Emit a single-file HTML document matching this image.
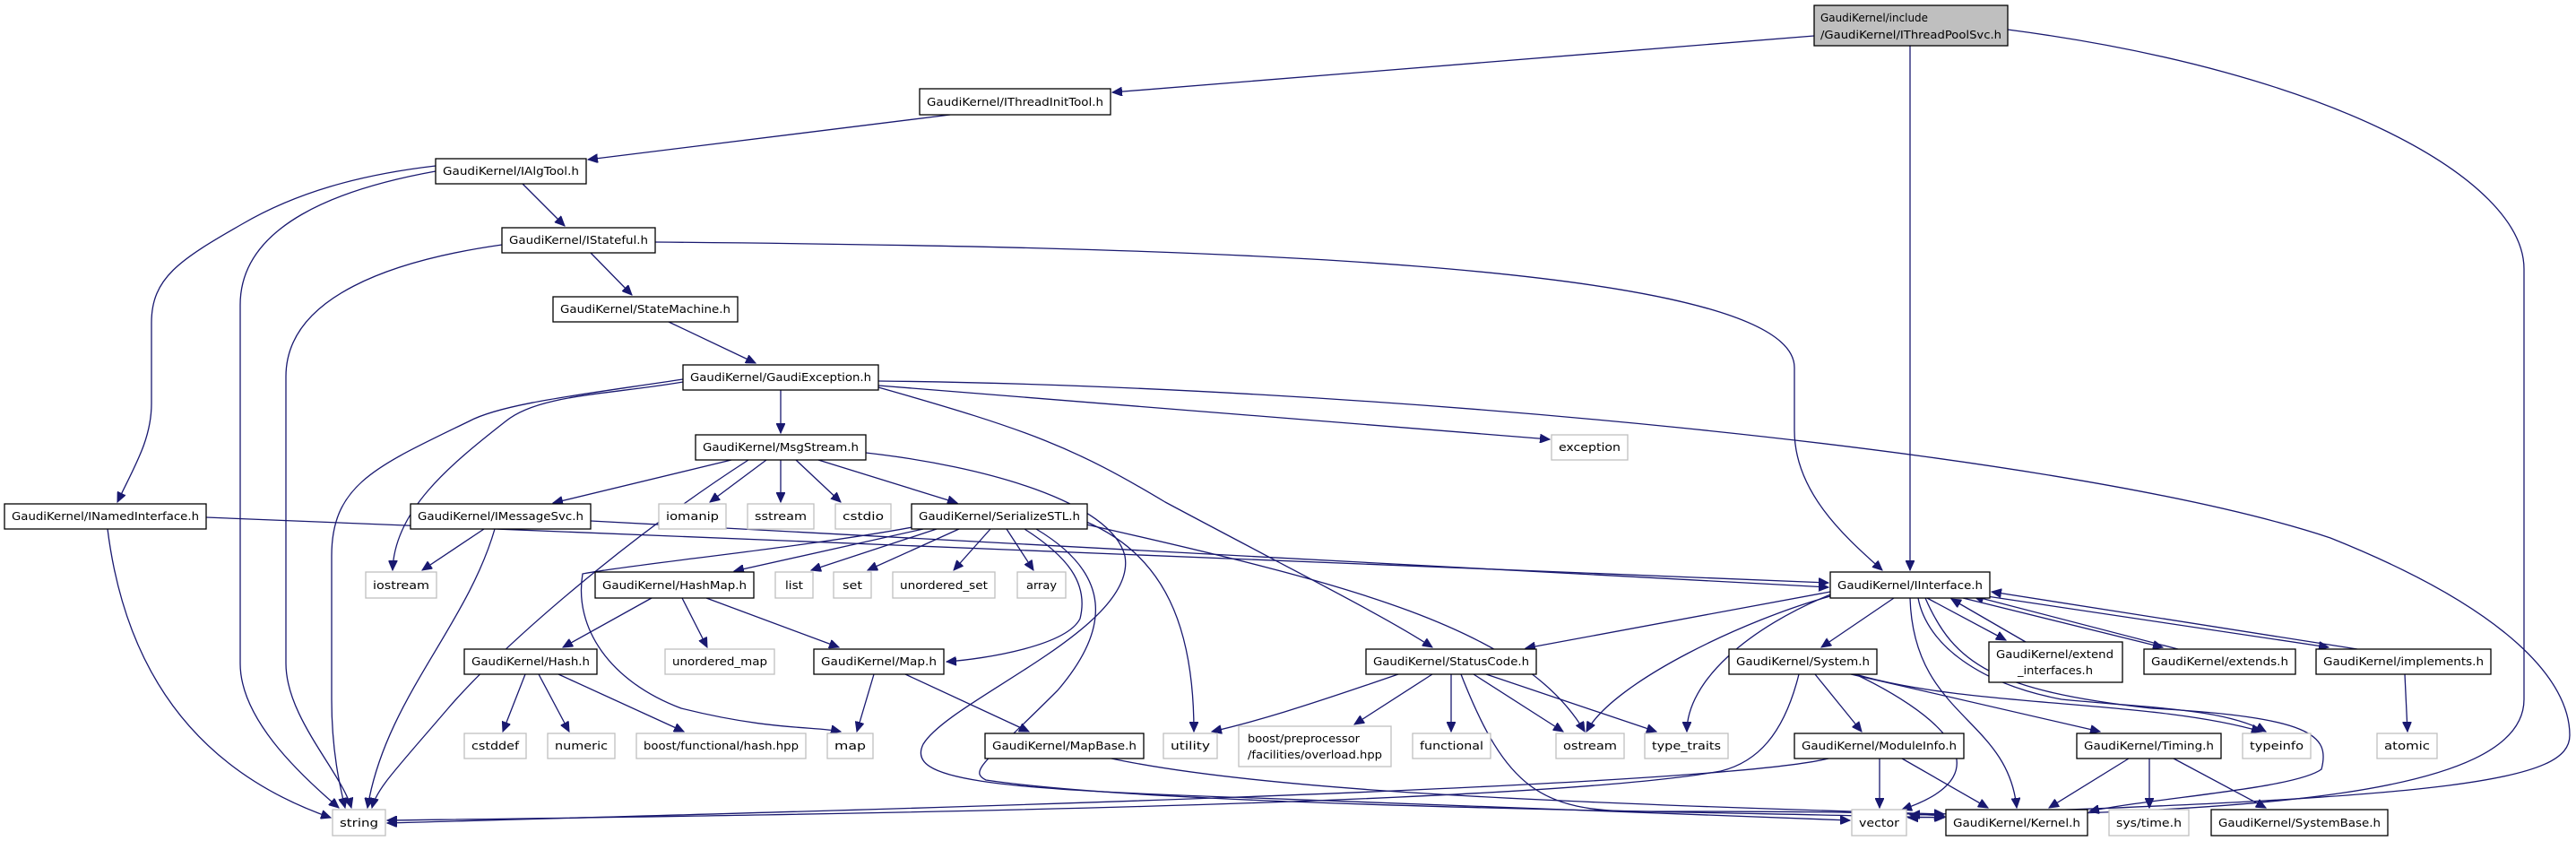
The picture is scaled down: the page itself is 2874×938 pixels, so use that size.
<!DOCTYPE html>
<html><head><meta charset="utf-8"><style>
html,body{margin:0;padding:0;background:#fff;}
svg{display:block;}
text{font-family:"DejaVu Sans","Liberation Sans",sans-serif;font-size:12px;fill:#000;}
.e{fill:none;stroke:#191970;stroke-width:1.3;marker-end:url(#a);}
.n{fill:#fff;stroke:#000;stroke-width:1.3;}
.g{fill:#fff;stroke:#bfbfbf;stroke-width:1.3;}
</style></head><body>
<svg width="2874" height="938" viewBox="0 0 2874 938" xmlns="http://www.w3.org/2000/svg">
<defs><marker id="a" markerUnits="userSpaceOnUse" markerWidth="12" markerHeight="10" refX="11" refY="5" orient="auto"><path d="M0,0 L11,5 L0,10 z" fill="#191970" stroke="#191970"/></marker></defs>

<g>
<path class="e" d="M2024,40 L1241,103"/>
<path class="e" d="M2131,51 L2131,636"/>
<path class="e" d="M2240,33 C2600,80 2816,200 2816,300 L2816,780 C2816,890 2500,905 2129,912"/>
<path class="e" d="M1060,128 L656,178"/>
<path class="e" d="M583,205 L630,252"/>
<path class="e" d="M486,185 C400,195 330,215 270,250 C200,290 169,310 169,360 L169,450 C169,490 150,520 131,560"/>
<path class="e" d="M486,191 C380,210 268,250 268,340 L268,740 C268,800 330,860 378,901"/>
<path class="e" d="M560,273 C440,290 319,330 319,420 L319,740 C319,800 380,860 392,901"/>
<path class="e" d="M731,270 C1300,275 2002,290 2002,410 L2002,480 C2002,550 2060,600 2100,636"/>
<path class="e" d="M659,282 L705,329"/>
<path class="e" d="M746,359 L843,405"/>
<path class="e" d="M762,423 C650,440 560,450 523,470 C420,520 370,540 370,620 L370,780 C370,840 380,880 385,901"/>
<path class="e" d="M762,426 C680,440 600,440 564,470 C500,520 440,570 438,636"/>
<path class="e" d="M871,435 L871,483"/>
<path class="e" d="M980,430 L1729,490"/>
<path class="e" d="M980,432 C1150,480 1200,500 1300,560 C1450,640 1550,690 1598,722"/>
<path class="e" d="M980,425 C1500,430 2300,500 2600,600 C2800,680 2867,760 2867,820 C2867,870 2750,890 2131,909"/>
<path class="e" d="M816,513 L617,561"/>
<path class="e" d="M835,513 C700,600 560,720 500,790 C440,860 420,880 415,901"/>
<path class="e" d="M855,513 L792,560"/>
<path class="e" d="M871,513 L871,560"/>
<path class="e" d="M888,513 L938,560"/>
<path class="e" d="M913,513 L1068,561"/>
<path class="e" d="M966,505 C1100,520 1240,560 1255,620 C1270,700 1060,780 1030,830 C1010,870 1100,880 1400,890 L2064,915"/>
<path class="e" d="M230,577 L2040,650"/>
<path class="e" d="M120,590 C140,750 220,860 369,912"/>
<path class="e" d="M659,581 L2040,655"/>
<path class="e" d="M540,590 L471,636"/>
<path class="e" d="M552,590 C520,700 430,780 410,901"/>
<path class="e" d="M1018,588 C900,610 700,630 650,640 C640,700 680,760 760,790 C860,815 910,810 938,816"/>
<path class="e" d="M1030,590 L819,637"/>
<path class="e" d="M1045,590 L905,636"/>
<path class="e" d="M1070,590 L968,636"/>
<path class="e" d="M1105,590 L1064,636"/>
<path class="e" d="M1123,590 L1153,636"/>
<path class="e" d="M1143,590 C1190,620 1215,650 1205,690 C1190,720 1100,735 1056,738"/>
<path class="e" d="M1156,590 C1240,640 1240,700 1180,770 C1100,850 1080,860 1100,870 C1300,900 1900,905 2169,912"/>
<path class="e" d="M1212,582 C1300,620 1332,700 1332,816"/>
<path class="e" d="M1212,585 C1500,650 1700,700 1768,816"/>
<path class="e" d="M727,667 L628,722"/>
<path class="e" d="M761,667 L789,722"/>
<path class="e" d="M788,667 L936,722"/>
<path class="e" d="M586,752 L561,816"/>
<path class="e" d="M601,752 L635,816"/>
<path class="e" d="M623,752 L763,816"/>
<path class="e" d="M975,752 L956,816"/>
<path class="e" d="M1010,752 L1148,816"/>
<path class="e" d="M1240,846 C1400,880 1700,895 2169,908"/>
<path class="e" d="M1560,752 C1450,790 1400,805 1352,816"/>
<path class="e" d="M1598,752 L1511,808"/>
<path class="e" d="M1619,752 L1619,816"/>
<path class="e" d="M1644,752 L1744,816"/>
<path class="e" d="M1658,752 L1848,816"/>
<path class="e" d="M1630,752 C1680,880 1720,905 1830,905 C1950,905 2100,905 2169,910"/>
<path class="e" d="M2042,660 L1702,723"/>
<path class="e" d="M2113,667 L2032,722"/>
<path class="e" d="M2150,667 L2238,714"/>
<path class="e" d="M2260,716 L2177,668"/>
<path class="e" d="M2190,667 L2413,722"/>
<path class="e" d="M2430,724 L2202,665"/>
<path class="e" d="M2210,664 L2598,722"/>
<path class="e" d="M2630,724 L2222,660"/>
<path class="e" d="M2683,752 L2686,816"/>
<path class="e" d="M2042,665 C1950,690 1800,760 1770,816"/>
<path class="e" d="M2045,662 C1950,700 1882,760 1882,816"/>
<path class="e" d="M2140,667 C2150,720 2210,763 2300,780 C2400,790 2480,790 2528,816"/>
<path class="e" d="M2131,667 C2135,800 2240,800 2250,901"/>
<path class="e" d="M2148,667 C2180,740 2223,770 2400,790 C2580,800 2600,820 2590,858 C2560,880 2400,890 2331,905"/>
<path class="e" d="M2007,752 C1990,820 1960,850 1920,860 C1700,900 800,910 432,915"/>
<path class="e" d="M2040,846 C1900,880 900,905 432,918"/>
<path class="e" d="M2025,752 L2077,816"/>
<path class="e" d="M2065,752 L2343,816"/>
<path class="e" d="M2070,752 C2200,790 2400,780 2523,816"/>
<path class="e" d="M2070,752 C2150,790 2250,860 2122,903"/>
<path class="e" d="M2097,846 L2097,901"/>
<path class="e" d="M2122,846 L2218,901"/>
<path class="e" d="M2375,846 L2286,901"/>
<path class="e" d="M2398,846 L2398,901"/>
<path class="e" d="M2425,846 L2528,901"/>
</g>

<g>
<rect x="2024" y="6" width="216" height="45" fill="#bfbfbf" stroke="#000" stroke-width="1.3"/>
<text x="2031" y="24" textLength="120" lengthAdjust="spacingAndGlyphs">GaudiKernel/include</text>
<text x="2031" y="43" textLength="202" lengthAdjust="spacingAndGlyphs">/GaudiKernel/IThreadPoolSvc.h</text>

<rect class="n" x="1026" y="99" width="213" height="29"/><text x="1034" y="118" textLength="197" lengthAdjust="spacingAndGlyphs">GaudiKernel/IThreadInitTool.h</text>
<rect class="n" x="486" y="177" width="168" height="28"/><text x="494" y="195" textLength="152" lengthAdjust="spacingAndGlyphs">GaudiKernel/IAlgTool.h</text>
<rect class="n" x="560" y="254" width="171" height="28"/><text x="568" y="272" textLength="155" lengthAdjust="spacingAndGlyphs">GaudiKernel/IStateful.h</text>
<rect class="n" x="617" y="331" width="206" height="28"/><text x="625" y="349" textLength="190" lengthAdjust="spacingAndGlyphs">GaudiKernel/StateMachine.h</text>
<rect class="n" x="762" y="407" width="218" height="28"/><text x="770" y="425" textLength="202" lengthAdjust="spacingAndGlyphs">GaudiKernel/GaudiException.h</text>
<rect class="n" x="776" y="485" width="190" height="28"/><text x="784" y="503" textLength="174" lengthAdjust="spacingAndGlyphs">GaudiKernel/MsgStream.h</text>
<rect class="g" x="1731" y="485" width="85" height="28"/><text x="1739" y="503" textLength="69" lengthAdjust="spacingAndGlyphs">exception</text>

<rect class="n" x="5" y="562" width="225" height="28"/><text x="13" y="580" textLength="209" lengthAdjust="spacingAndGlyphs">GaudiKernel/INamedInterface.h</text>
<rect class="n" x="458" y="562" width="201" height="28"/><text x="466" y="580" textLength="185" lengthAdjust="spacingAndGlyphs">GaudiKernel/IMessageSvc.h</text>
<rect class="g" x="735" y="562" width="75" height="28"/><text x="743" y="580" textLength="59" lengthAdjust="spacingAndGlyphs">iomanip</text>
<rect class="g" x="834" y="562" width="74" height="28"/><text x="842" y="580" textLength="58" lengthAdjust="spacingAndGlyphs">sstream</text>
<rect class="g" x="932" y="562" width="62" height="28"/><text x="940" y="580" textLength="46" lengthAdjust="spacingAndGlyphs">cstdio</text>
<rect class="n" x="1017" y="562" width="196" height="28"/><text x="1025" y="580" textLength="180" lengthAdjust="spacingAndGlyphs">GaudiKernel/SerializeSTL.h</text>

<rect class="g" x="408" y="638" width="79" height="29"/><text x="416" y="657" textLength="63" lengthAdjust="spacingAndGlyphs">iostream</text>
<rect class="n" x="664" y="638" width="177" height="29"/><text x="672" y="657" textLength="161" lengthAdjust="spacingAndGlyphs">GaudiKernel/HashMap.h</text>
<rect class="g" x="865" y="638" width="42" height="29"/><text x="876" y="657" textLength="20" lengthAdjust="spacingAndGlyphs">list</text>
<rect class="g" x="930" y="638" width="42" height="29"/><text x="940" y="657" textLength="22" lengthAdjust="spacingAndGlyphs">set</text>
<rect class="g" x="996" y="638" width="114" height="29"/><text x="1004" y="657" textLength="98" lengthAdjust="spacingAndGlyphs">unordered_set</text>
<rect class="g" x="1135" y="638" width="54" height="29"/><text x="1145" y="657" textLength="34" lengthAdjust="spacingAndGlyphs">array</text>
<rect class="n" x="2042" y="638" width="178" height="29"/><text x="2050" y="657" textLength="162" lengthAdjust="spacingAndGlyphs">GaudiKernel/IInterface.h</text>

<rect class="n" x="518" y="724" width="148" height="28"/><text x="526" y="742" textLength="132" lengthAdjust="spacingAndGlyphs">GaudiKernel/Hash.h</text>
<rect class="g" x="742" y="724" width="122" height="28"/><text x="750" y="742" textLength="106" lengthAdjust="spacingAndGlyphs">unordered_map</text>
<rect class="n" x="908" y="724" width="145" height="28"/><text x="916" y="742" textLength="129" lengthAdjust="spacingAndGlyphs">GaudiKernel/Map.h</text>
<rect class="n" x="1524" y="724" width="190" height="28"/><text x="1532" y="742" textLength="174" lengthAdjust="spacingAndGlyphs">GaudiKernel/StatusCode.h</text>
<rect class="n" x="1929" y="724" width="165" height="28"/><text x="1937" y="742" textLength="149" lengthAdjust="spacingAndGlyphs">GaudiKernel/System.h</text>
<rect class="n" x="2219" y="716" width="149" height="45"/><text x="2227" y="734" textLength="131" lengthAdjust="spacingAndGlyphs">GaudiKernel/extend</text><text x="2251" y="752" textLength="84" lengthAdjust="spacingAndGlyphs">_interfaces.h</text>
<rect class="n" x="2392" y="724" width="169" height="28"/><text x="2400" y="742" textLength="153" lengthAdjust="spacingAndGlyphs">GaudiKernel/extends.h</text>
<rect class="n" x="2584" y="724" width="195" height="28"/><text x="2592" y="742" textLength="179" lengthAdjust="spacingAndGlyphs">GaudiKernel/implements.h</text>

<rect class="g" x="518" y="818" width="69" height="28"/><text x="526" y="836" textLength="53" lengthAdjust="spacingAndGlyphs">cstddef</text>
<rect class="g" x="611" y="818" width="75" height="28"/><text x="619" y="836" textLength="59" lengthAdjust="spacingAndGlyphs">numeric</text>
<rect class="g" x="710" y="818" width="189" height="28"/><text x="718" y="836" textLength="173" lengthAdjust="spacingAndGlyphs">boost/functional/hash.hpp</text>
<rect class="g" x="923" y="818" width="51" height="28"/><text x="931" y="836" textLength="35" lengthAdjust="spacingAndGlyphs">map</text>
<rect class="n" x="1099" y="818" width="177" height="28"/><text x="1107" y="836" textLength="161" lengthAdjust="spacingAndGlyphs">GaudiKernel/MapBase.h</text>
<rect class="g" x="1298" y="818" width="60" height="28"/><text x="1306" y="836" textLength="44" lengthAdjust="spacingAndGlyphs">utility</text>
<rect class="g" x="1382" y="810" width="170" height="45"/><text x="1392" y="828" textLength="125" lengthAdjust="spacingAndGlyphs">boost/preprocessor</text><text x="1392" y="846" textLength="150" lengthAdjust="spacingAndGlyphs">/facilities/overload.hpp</text>
<rect class="g" x="1576" y="818" width="87" height="28"/><text x="1584" y="836" textLength="71" lengthAdjust="spacingAndGlyphs">functional</text>
<rect class="g" x="1736" y="818" width="76" height="28"/><text x="1744" y="836" textLength="60" lengthAdjust="spacingAndGlyphs">ostream</text>
<rect class="g" x="1835" y="818" width="93" height="28"/><text x="1843" y="836" textLength="77" lengthAdjust="spacingAndGlyphs">type_traits</text>
<rect class="n" x="2002" y="818" width="189" height="28"/><text x="2010" y="836" textLength="173" lengthAdjust="spacingAndGlyphs">GaudiKernel/ModuleInfo.h</text>
<rect class="n" x="2317" y="818" width="161" height="28"/><text x="2325" y="836" textLength="145" lengthAdjust="spacingAndGlyphs">GaudiKernel/Timing.h</text>
<rect class="g" x="2502" y="818" width="76" height="28"/><text x="2510" y="836" textLength="60" lengthAdjust="spacingAndGlyphs">typeinfo</text>
<rect class="g" x="2652" y="818" width="67" height="28"/><text x="2660" y="836" textLength="51" lengthAdjust="spacingAndGlyphs">atomic</text>

<rect class="g" x="371" y="903" width="59" height="29"/><text x="379" y="922" textLength="43" lengthAdjust="spacingAndGlyphs">string</text>
<rect class="g" x="2066" y="903" width="61" height="29"/><text x="2074" y="922" textLength="45" lengthAdjust="spacingAndGlyphs">vector</text>
<rect class="n" x="2171" y="903" width="158" height="29"/><text x="2179" y="922" textLength="142" lengthAdjust="spacingAndGlyphs">GaudiKernel/Kernel.h</text>
<rect class="g" x="2353" y="903" width="89" height="29"/><text x="2361" y="922" textLength="73" lengthAdjust="spacingAndGlyphs">sys/time.h</text>
<rect class="n" x="2467" y="903" width="197" height="29"/><text x="2475" y="922" textLength="181" lengthAdjust="spacingAndGlyphs">GaudiKernel/SystemBase.h</text>
</g>
</svg>
</body></html>
